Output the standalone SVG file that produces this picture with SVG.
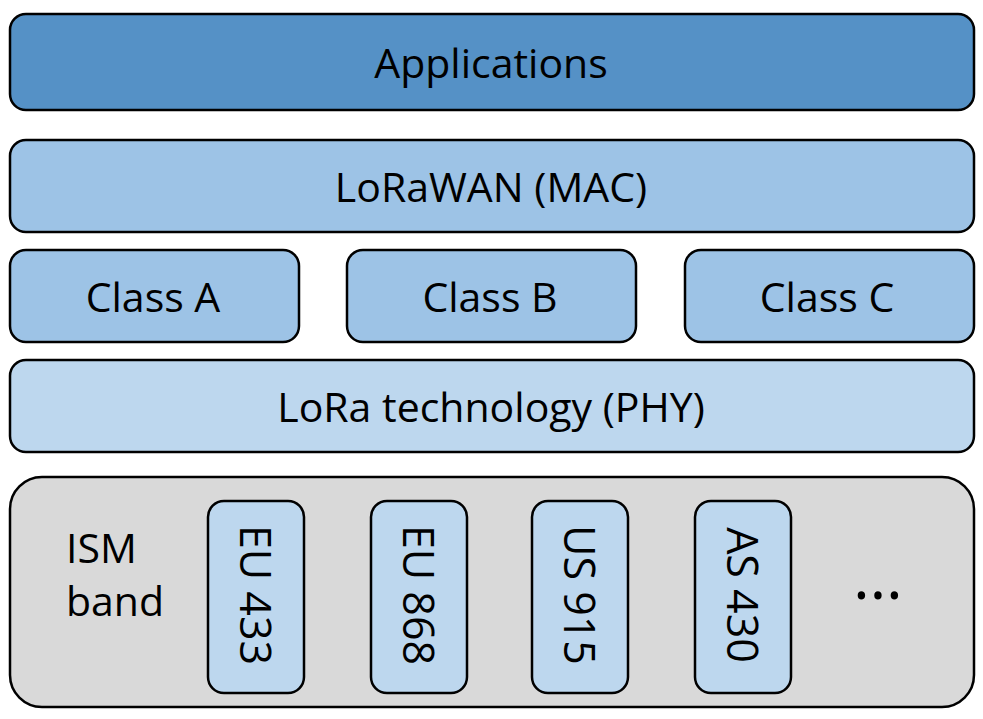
<svg xmlns="http://www.w3.org/2000/svg" width="983" height="719" viewBox="0 0 983 719">
<style>
.b{stroke:#000;stroke-width:2.5}
.t{font-family:"Open Sans","Liberation Sans",sans-serif;font-size:41px;fill:#000;text-anchor:middle;dominant-baseline:central}
</style>
<rect width="983" height="719" fill="#fff"/>
<g id="applications"><rect class="b" x="10" y="14" width="964" height="96" rx="16" fill="#5591c6"/><text class="t" x="491" y="62">Applications</text></g>
<g id="lorawan"><rect class="b" x="10" y="140" width="964" height="92" rx="16" fill="#9dc3e6"/><text class="t" x="491" y="186">LoRaWAN (MAC)</text></g>
<g id="classA"><rect class="b" x="10" y="250" width="289" height="92" rx="16" fill="#9dc3e6"/><text class="t" x="153" y="296">Class A</text></g>
<g id="classB"><rect class="b" x="347" y="250" width="289" height="92" rx="16" fill="#9dc3e6"/><text class="t" x="490" y="296">Class B</text></g>
<g id="classC"><rect class="b" x="685" y="250" width="289" height="92" rx="16" fill="#9dc3e6"/><text class="t" x="827" y="296">Class C</text></g>
<g id="lora"><rect class="b" x="10" y="360" width="964" height="92" rx="16" fill="#bdd7ee"/><text class="t" x="491" y="406">LoRa technology (PHY)</text></g>
<g id="ism"><rect class="b" x="10" y="477" width="964" height="230" rx="32" fill="#d9d9d9"/>
<text class="t" x="66" y="547" style="text-anchor:start">ISM</text>
<text class="t" x="66" y="600" style="text-anchor:start">band</text>
<text class="t" x="880" y="574" style="font-size:64px;letter-spacing:4px">…</text></g>
<g id="eu433"><rect class="b" x="208" y="501" width="96" height="192" rx="16" fill="#bdd7ee"/><text class="t" transform="translate(256 595) rotate(90)" style="font-size:43px">EU 433</text></g>
<g id="eu868"><rect class="b" x="371" y="501" width="96" height="192" rx="16" fill="#bdd7ee"/><text class="t" transform="translate(419 595) rotate(90)" style="font-size:43px">EU 868</text></g>
<g id="us915"><rect class="b" x="532" y="501" width="96" height="192" rx="16" fill="#bdd7ee"/><text class="t" transform="translate(580 595) rotate(90)" style="font-size:43px">US 915</text></g>
<g id="as430"><rect class="b" x="695" y="501" width="96" height="192" rx="16" fill="#bdd7ee"/><text class="t" transform="translate(743 595) rotate(90)" style="font-size:43px">AS 430</text></g>
<g id="connectors"/>
</svg>
